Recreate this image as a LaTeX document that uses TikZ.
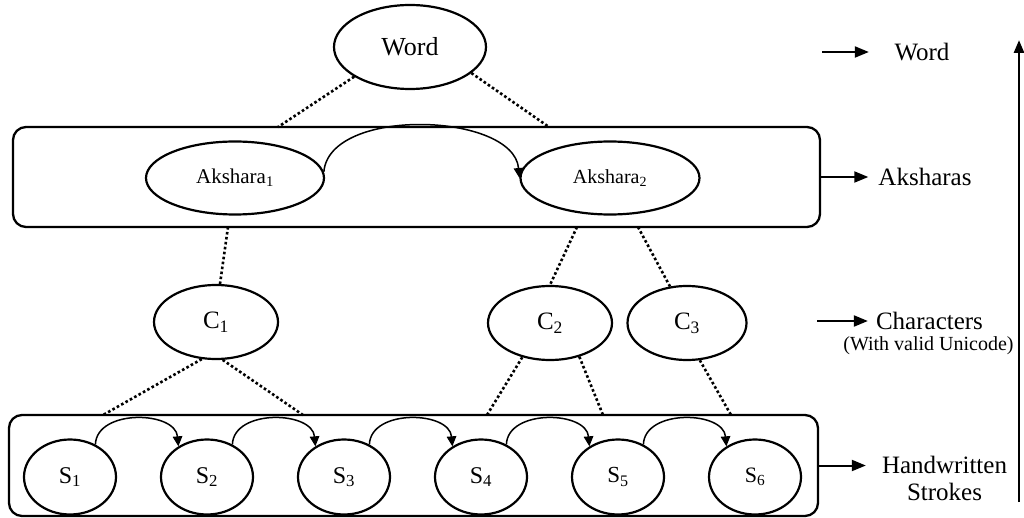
\documentclass[tikz,border=0pt]{standalone}
\usepackage{fontspec}
\setmainfont{Liberation Serif}
\usetikzlibrary{shapes.geometric,arrows.meta}
\newcommand{\fsz}[1]{\fontsize{#1}{#1}\selectfont}
\begin{document}
\begin{tikzpicture}[x=1pt,y=-1pt,
  oval/.style={ellipse,draw,line width=2.2pt,inner sep=0pt},
  group/.style={rectangle,draw,line width=2.3pt,rounded corners=13pt,inner sep=0pt},
  link/.style={line width=2.6pt,dash pattern=on 2.6pt off 2.4pt},
  seq/.style={line width=1.5pt,-{Triangle[length=10pt,width=9.5pt]}},
  lvl/.style={line width=2pt,-{Triangle[length=14pt,width=11pt]}},
  lbl/.style={inner sep=0pt,font=\fsz{25}},
  cnode/.style={oval,minimum width=124pt,minimum height=74pt,font=\fsz{25}},
  snode/.style={oval,minimum width=92pt,minimum height=75pt,font=\fsz{24}},
]
\useasboundingbox (0,0) rectangle (1024,518);

% word level
\node[oval,minimum width=152pt,minimum height=84pt,font=\fsz{26}] (word) at (410,47) {Word};

% akshara level
\node[group,minimum width=807pt,minimum height=100pt] (abox) at (416.5,177) {};
\node[oval,minimum width=178pt,minimum height=73pt,font=\fsz{21}] (a1) at (235,178) {Akshara\textsubscript{1}};
\node[oval,minimum width=179pt,minimum height=73pt,font=\fsz{20}] (a2) at (610,178) {Akshara\textsubscript{2}};
\draw[seq] (a1.4) to[out=85,in=95,looseness=0.86] (a2.west);

% character level
\node[cnode] (c1) at (216,322) {C\textsubscript{1}};
\node[cnode] (c2) at (550,323) {C\textsubscript{2}};
\node[cnode,minimum width=119pt] (c3) at (687,323) {C\textsubscript{3}};

% stroke level
\node[group,minimum width=809pt,minimum height=101pt] (sbox) at (413.5,465.5) {};
\node[snode] (s1) at (70,477) {S\textsubscript{1}};
\node[snode] (s2) at (207,477) {S\textsubscript{2}};
\node[snode] (s3) at (344,477) {S\textsubscript{3}};
\node[snode] (s4) at (481,477) {S\textsubscript{4}};
\node[snode,font=\fsz{23}] (s5) at (618,477) {S\textsubscript{5}};
\node[snode,font=\fsz{22}] (s6) at (755,477) {S\textsubscript{6}};
\foreach \a/\b in {s1/s2,s2/s3,s3/s4,s4/s5,s5/s6}
  \draw[seq] (\a.52) to[out=88,in=95,looseness=1.1] (\b.133);

% dotted links between levels
\coordinate (wl) at (278,127);
\coordinate (wr) at (549,127);
\draw[link] (word.208) -- (wl);
\draw[link] (word.-23) -- (wr);

\coordinate (ak1) at (228,227);
\coordinate (ak2) at (577,227);
\coordinate (ak3) at (638,227);
\draw[link] (ak1) -- (c1.84);
\draw[link] (ak2) -- (c2.north);
\draw[link] (ak3) -- (c3.115);

\coordinate (st1) at (103,415);
\coordinate (st2) at (303,415);
\coordinate (st3) at (487,415);
\coordinate (st4) at (603,415);
\coordinate (st5) at (731,415);
\draw[link] (c1.249) -- (st1);
\draw[link] (c1.280) -- (st2);
\draw[link] (c2.231) -- (st3);
\draw[link] (c2.311) -- (st4);
\draw[link] (c3.289) -- (st5);

% level labels
\node[lbl] (lw) at (922,52) {Word};
\node[lbl] (la) at (925,177) {Aksharas};
\node[lbl] (lc) at (929.5,321) {Characters};
\node[lbl,font=\fsz{20}] (lu) at (928.5,346) {(With valid Unicode)};
\node[lbl,align=center,font=\fontsize{25}{27}\selectfont] (lh) at (944.5,478.5) {Handwritten\\Strokes};

\coordinate (wordarr) at (822,52);
\coordinate (chararr) at (817,321);
\draw[lvl,shorten >=25.5pt] (wordarr) -- (lw.west);
\draw[lvl,shorten >=10pt] (abox.east) -- (la.west);
\draw[lvl,shorten >=8pt] (chararr) -- (lc.west);
\draw[lvl,shorten >=16pt] (sbox.east) -- (sbox.east -| lh.west);

% hierarchy direction
\coordinate (vb) at (1019,502);
\coordinate (vt) at (1019,40);
\draw[line width=2.6pt,-{Triangle[length=13pt,width=10pt]}] (vb) -- (vt);
\end{tikzpicture}
\end{document}
